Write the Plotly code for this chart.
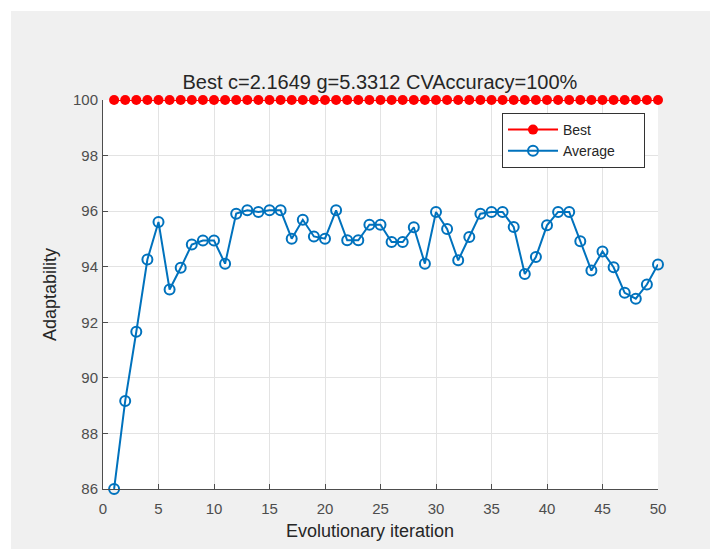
import plotly.graph_objects as go

iterations = list(range(1, 51))
best_fitness = [100] * 50
average_fitness = [
    86.00, 89.17, 91.66, 94.26, 95.61, 93.18, 93.96, 94.80, 94.94, 94.94,
    94.11, 95.91, 96.03, 95.97, 96.03, 96.03, 95.01, 95.69, 95.09, 95.01,
    96.03, 94.95, 94.95, 95.51, 95.51, 94.89, 94.89, 95.42, 94.11, 95.97,
    95.36, 94.23, 95.07, 95.91, 95.97, 95.97, 95.43, 93.74, 94.35, 95.49,
    95.97, 95.97, 94.92, 93.86, 94.55, 93.98, 93.06, 92.85, 93.36, 94.08,
]
x_ticks = [0, 5, 10, 15, 20, 25, 30, 35, 40, 45, 50]
y_ticks = [86, 88, 90, 92, 94, 96, 98, 100]
title_text = "Best c=2.1649 g=5.3312 CVAccuracy=100%"
x_title = "Evolutionary iteration"
y_title = "Adaptability"

FONT = "Liberation Sans, Arial, sans-serif"
TICK_COLOR = "#4d4d4d"
TEXT_COLOR = "#262626"

W, H = 718, 549
ML, MR, MT, MB = 95, 68, 92, 68
PW, PH = W - ML - MR, H - MT - MB


def px_x(fx):
    return (fx - ML) / PW


def px_y(fy):
    return (H - MB - fy) / PH


NB = "\u00a0"

fig = go.Figure()
fig.add_trace(go.Scatter(
    x=iterations, y=best_fitness, name="Best" + NB * 10, mode="lines+markers",
    line=dict(color="#ff0000", width=2),
    marker=dict(symbol="circle", size=10, color="#ff0000"),
    cliponaxis=False,
))
fig.add_trace(go.Scatter(
    x=iterations, y=average_fitness, name="Average" + NB * 6, mode="lines+markers",
    line=dict(color="#0072bd", width=2),
    marker=dict(symbol="circle-open", size=10, color="#0072bd",
                line=dict(width=2, color="#0072bd")),
    cliponaxis=False,
))

fig.update_layout(
    width=W, height=H,
    paper_bgcolor="#f0f0f0", plot_bgcolor="white",
    margin=dict(l=ML, r=MR, t=MT, b=MB),
    font=dict(family=FONT, size=15, color=TEXT_COLOR),
    title=dict(text=title_text, x=0.518, xanchor="center", y=0.865, yanchor="middle",
               font=dict(size=20, color=TEXT_COLOR, family=FONT)),
    showlegend=True,
    legend=dict(x=px_x(494), y=px_y(105), xanchor="left", yanchor="top",
                bgcolor="white", bordercolor="#333333", borderwidth=1,
                font=dict(size=14, color=TEXT_COLOR, family=FONT),
                itemwidth=50, tracegroupgap=0),
    shapes=[
        dict(type="rect", xref="paper", yref="paper",
             x0=px_x(-10), x1=px_x(W + 10), y0=px_y(3), y1=px_y(-10),
             fillcolor="white", line=dict(width=0), layer="below"),
        dict(type="rect", xref="paper", yref="paper",
             x0=px_x(-10), x1=px_x(3), y0=px_y(H + 10), y1=px_y(-10),
             fillcolor="white", line=dict(width=0), layer="below"),
    ],
    annotations=[
        dict(text=x_title, xref="paper", yref="paper", x=px_x(362), y=px_y(523),
             xanchor="center", yanchor="middle", showarrow=False,
             font=dict(size=18, color=TEXT_COLOR, family=FONT)),
    ],
)
fig.update_xaxes(
    range=[0, 50], tickvals=x_ticks, ticks="inside", ticklen=5, tickcolor=TICK_COLOR,
    showline=True, linecolor=TICK_COLOR, linewidth=1,
    showgrid=True, gridcolor="#e3e3e3", gridwidth=1, zeroline=False,
    tickfont=dict(size=15, color=TICK_COLOR), ticklabelstandoff=6,
)
fig.update_yaxes(
    range=[86, 100], tickvals=y_ticks, ticks="inside", ticklen=5, tickcolor=TICK_COLOR,
    showline=True, linecolor=TICK_COLOR, linewidth=1,
    showgrid=True, gridcolor="#e3e3e3", gridwidth=1, zeroline=False,
    tickfont=dict(size=15, color=TICK_COLOR), ticklabelstandoff=1,
    title=dict(text=y_title, font=dict(size=18, color=TEXT_COLOR), standoff=11),
)

fig.write_html("out.html")
